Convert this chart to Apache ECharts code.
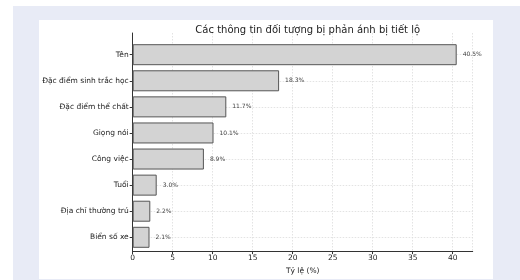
<!DOCTYPE html>
<html lang="vi">
<head>
  <meta charset="UTF-8">
  <title>Các thông tin đối tượng bị phản ánh bị tiết lộ</title>
  <script src="https://cdn.jsdelivr.net/npm/echarts@6/dist/echarts.min.js"></script>
  <style>
    body { margin: 0; padding: 0; background: #fff; }
    #chart { width: 520px; height: 280px; }
  </style>
</head>
<body>
  <div id="chart"></div>
  <script>
    // Dữ liệu
    const categories = ['Tên', 'Đặc điểm sinh trắc học', 'Đặc điểm thể chất', 'Giọng nói',
      'Công việc', 'Tuổi', 'Địa chỉ thường trú', 'Biển số xe'];
    const values = [40.5, 18.3, 11.7, 10.1, 8.9, 3.0, 2.2, 2.1];
    const xTicks = [0, 5, 10, 15, 20, 25, 30, 35, 40];

    const font = 'DejaVu Sans';
    const chart = echarts.init(document.getElementById('chart'));

    const option = {
      animation: false,
      graphic: [
        { type: 'rect', z: -10, shape: { x: 13, y: 6, width: 507, height: 274 }, style: { fill: '#e8ebf6' } },
        { type: 'rect', z: -9, shape: { x: 39, y: 20, width: 454, height: 259 }, style: { fill: '#ffffff' } }
      ],
      title: {
        text: 'Các thông tin đối tượng bị phản ánh bị tiết lộ',
        left: 302.7,
        top: 20,
        textAlign: 'center',
        textStyle: { fontFamily: font, fontSize: 10, fontWeight: 'normal', color: '#222' }
      },
      grid: [
        // khung trục chính
        { left: 132.7, right: 47.3, top: 33, bottom: 21.7 },
        // vùng các thanh (tâm thanh đầu/cuối)
        { left: 132.7, right: 47.3, top: 54.7, bottom: 42.7 }
      ],
      xAxis: [
        {
          gridIndex: 0,
          type: 'value',
          min: 0,
          max: 42.5,
          interval: 5,
          name: 'Tỷ lệ (%)',
          nameLocation: 'middle',
          nameGap: 14,
          nameTextStyle: { fontFamily: font, fontSize: 7.5, color: '#222' },
          axisLine: { show: true, lineStyle: { color: '#333', width: 1 } },
          axisTick: { show: true, length: 3, lineStyle: { color: '#333' } },
          axisLabel: {
            fontFamily: font, fontSize: 7.5, color: '#222', margin: 3,
            showMaxLabel: false,
            formatter: v => (xTicks.includes(v) ? String(v) : '')
          },
          splitLine: { show: true, lineStyle: { color: '#dcdcdc', type: [1.5, 1.5], width: 0.8 } }
        },
        {
          gridIndex: 1,
          type: 'value',
          min: 0,
          max: 42.5,
          show: false
        }
      ],
      yAxis: [
        {
          gridIndex: 0,
          type: 'value',
          min: 0,
          max: 1,
          axisLine: { show: true, lineStyle: { color: '#333', width: 1 } },
          axisTick: { show: false },
          axisLabel: { show: false },
          splitLine: { show: false }
        },
        {
          gridIndex: 1,
          type: 'category',
          data: categories,
          inverse: true,
          boundaryGap: false,
          axisLine: { show: false },
          axisTick: { show: true, length: 3, lineStyle: { color: '#333' } },
          axisLabel: { fontFamily: font, fontSize: 7.5, color: '#222', margin: 4 },
          splitLine: { show: true, lineStyle: { color: '#dcdcdc', type: [1.5, 1.5], width: 0.8 } }
        }
      ],
      series: [
        {
          type: 'bar',
          xAxisIndex: 1,
          yAxisIndex: 1,
          data: values,
          barWidth: 21,
          clip: false,
          itemStyle: { color: '#d3d3d3', borderColor: '#555', borderWidth: 1 },
          label: {
            show: true,
            position: 'right',
            distance: 6,
            fontFamily: font,
            fontSize: 6,
            color: '#444',
            formatter: p => p.value.toFixed(1) + '%'
          }
        }
      ]
    };

    chart.setOption(option);
  </script>
</body>
</html>
